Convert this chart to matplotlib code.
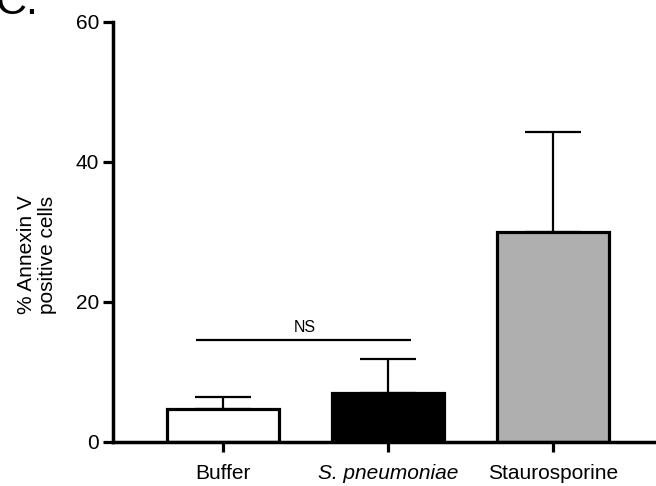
import matplotlib
matplotlib.use("Agg")
import matplotlib.pyplot as plt

plt.rcParams['font.family'] = ['Liberation Sans', 'DejaVu Sans']

categories = ["Buffer", "S. pneumoniae", "Staurosporine"]
means = [4.7, 7.0, 30.0]
sem = [1.7, 4.8, 14.2]
colors = ["#FFFFFF", "#000000", "#AFAFAF"]
yticks = [0, 20, 40, 60]
ns_level = 14.6

fig = plt.figure(figsize=(6.56, 4.86), dpi=100)
ax = fig.add_axes([113 / 656, 1 - 441.7 / 486, 1 - 113 / 656, 420 / 486])

x = list(range(len(categories)))
ax.bar(x, means, width=0.68, color=colors, edgecolor="black", linewidth=2.3, zorder=2)
ax.errorbar(x, means, yerr=[[0] * len(means), sem], fmt="none", ecolor="black",
            elinewidth=1.6, capsize=20, capthick=1.6, zorder=3)

# significance bracket between the first two groups
ax.plot([-0.16, 1.14], [ns_level, ns_level], color="black", lw=1.6, solid_capstyle="butt")
ax.text(0.5, ns_level + 0.6, "NS", ha="center", va="bottom", fontsize=11.5)

ax.set_xlim(-0.664, 2.624)
ax.set_ylim(0, 60)
ax.set_yticks(yticks)
ax.set_xticks(x)
labels = ax.set_xticklabels(categories, fontsize=15)
labels[1].set_fontstyle("italic")
ax.tick_params(axis="y", labelsize=15, width=2.3, length=7, pad=3)
ax.tick_params(axis="x", width=2.3, length=7, pad=9)

for side in ("top", "right"):
    ax.spines[side].set_visible(False)
for side in ("left", "bottom"):
    ax.spines[side].set_linewidth(2.5)

fig.text(37 / 656, 1 - 255 / 486, "% Annexin V\npositive cells", rotation=90,
         ha="center", va="center", fontsize=15, linespacing=1.1)

fig.text(-4 / 656, 1 - 14 / 486, "C.", ha="left", va="baseline", fontsize=31)

fig.savefig("out.png", dpi=100)
